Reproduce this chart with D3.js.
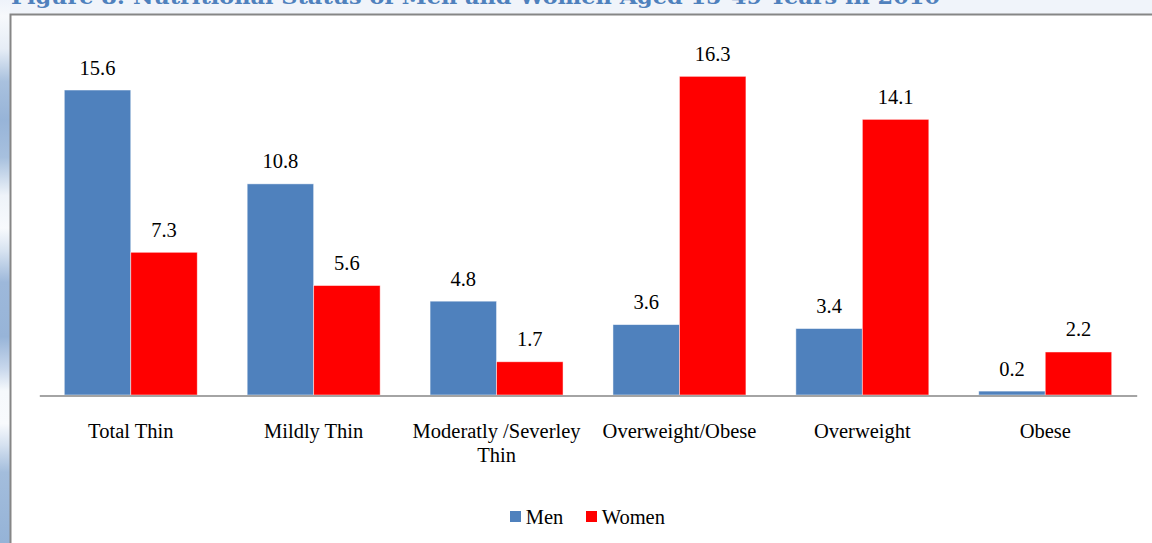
<!DOCTYPE html>
<html>
<head>
<meta charset="utf-8">
<script src="https://cdn.jsdelivr.net/npm/d3@7"></script>
<style>
  html, body { margin: 0; padding: 0; background: #ffffff; }
  svg { display: block; }
  svg text { font-family: "Liberation Serif", "Times New Roman", Times, serif; }
  svg text.heading { font-family: "DejaVu Serif", "Liberation Serif", serif; font-weight: bold; }
</style>
</head>
<body>
<svg id="chart" width="1152" height="543"></svg>
<script>
// Nutritional status of men and women aged 15-49 (percent)
const categories = ["Total Thin", "Mildly Thin", "Moderatly /Severley Thin", "Overweight/Obese", "Overweight", "Obese"];
const seriesNames = ["Men", "Women"];
const menValues = [15.6, 10.8, 4.8, 3.6, 3.4, 0.2];
const womenValues = [7.3, 5.6, 1.7, 16.3, 14.1, 2.2];
const seriesColors = ["#4f81bd", "#ff0000"];
const titleText = "Figure 8: Nutritional Status of Men and Women Aged 15-49 Years in 2010";

const W = 1152, H = 543;
const svg = d3.select("#chart");

// page background: pale strip above the frame, shaded band at the left edge
const defs = svg.append("defs");
const grad = defs.append("linearGradient")
  .attr("id", "edgeShade").attr("x1", 0).attr("y1", 0).attr("x2", 0).attr("y2", 1);
[[0, "#eef3fa"], [0.03, "#f7f9fc"], [0.09, "#e6edf6"], [0.15, "#a9c1de"], [0.22, "#97b4d8"],
 [0.29, "#a7c0de"], [0.36, "#eef3f9"], [0.42, "#f8fafd"], [0.46, "#d9e4f1"], [0.52, "#9db8da"],
 [0.62, "#97b4d8"], [0.68, "#c9d8ec"], [0.72, "#f6f9fc"], [0.78, "#f8fafd"], [0.82, "#d5e1f0"],
 [0.87, "#a3bddc"], [1, "#95b3d7"]]
  .forEach(([o, c]) => grad.append("stop").attr("offset", o).attr("stop-color", c));

svg.append("rect").attr("x", 0).attr("y", 0).attr("width", W).attr("height", 14)
  .attr("fill", "#f0f4fa");
svg.append("rect").attr("x", 0).attr("y", 0).attr("width", 10).attr("height", H)
  .attr("fill", "url(#edgeShade)");

// heading, mostly above the visible area
svg.append("text")
  .attr("class", "heading")
  .attr("x", 11).attr("y", 3.5)
  .attr("textLength", 929).attr("lengthAdjust", "spacingAndGlyphs")
  .style("font-size", "21px")
  .attr("fill", "#4f81bd")
  .text(titleText);

// chart frame (left and top edges visible)
svg.append("rect").attr("x", 10.5).attr("y", 14.5).attr("width", W).attr("height", H)
  .attr("fill", "#ffffff").attr("stroke", "#868686").attr("stroke-width", 2);

// scales
const x0 = d3.scaleBand().domain(categories).range([39.3, 1136.7])
  .paddingInner(0.273).paddingOuter(0.1366);
const x1 = d3.scaleBand().domain(seriesNames).range([0, x0.bandwidth()]).padding(0);
const y = d3.scaleLinear().domain([0, 18]).range([395, 43.1]);

const rows = categories.map((c, i) => ({
  category: c,
  values: [
    { series: "Men", value: menValues[i], color: seriesColors[0] },
    { series: "Women", value: womenValues[i], color: seriesColors[1] }
  ]
}));

const groups = svg.append("g").selectAll("g").data(rows).join("g")
  .attr("transform", d => `translate(${x0(d.category)},0)`);

groups.selectAll("rect").data(d => d.values).join("rect")
  .attr("x", d => x1(d.series))
  .attr("y", d => y(d.value))
  .attr("width", x1.bandwidth())
  .attr("height", d => y(0) - y(d.value))
  .attr("fill", d => d.color)
  .attr("stroke", "#ffffff").attr("stroke-opacity", 0.6).attr("stroke-width", 0.8);

groups.selectAll("text.val").data(d => d.values).join("text")
  .attr("class", "val")
  .attr("x", d => x1(d.series) + x1.bandwidth() / 2)
  .attr("y", d => y(d.value) - 15.5)
  .attr("text-anchor", "middle")
  .style("font-size", "20.5px").attr("fill", "#000")
  .text(d => d.value.toFixed(1));

// category axis
const axis = svg.append("g").attr("transform", "translate(0,395.5)")
  .call(d3.axisBottom(x0).tickSize(0).tickSizeOuter(0).tickPadding(0));
axis.attr("font-family", null).attr("font-size", null);
axis.select(".domain").attr("stroke", "#868686").attr("stroke-width", 1.6);
axis.selectAll(".tick text").each(function(d) {
  const t = d3.select(this);
  t.text(null)
    .style("font-size", "20.5px").attr("fill", "#000")
    .attr("dy", null).attr("y", 42.5);
  const lines = d === "Moderatly /Severley Thin" ? ["Moderatly /Severley", "Thin"] : [d];
  lines.forEach((ln, i) => {
    t.append("tspan").attr("x", 0).attr("dy", i === 0 ? 0 : 24).text(ln);
  });
});

// legend
const legend = svg.append("g");
const legendX = [510, 586];
seriesNames.forEach((s, i) => {
  legend.append("rect").attr("x", legendX[i]).attr("y", 511)
    .attr("width", 11).attr("height", 11).attr("fill", seriesColors[i]);
  legend.append("text").attr("x", legendX[i] + 15.7).attr("y", 524)
    .style("font-size", "20.5px").attr("fill", "#000")
    .text(s);
});
</script>
</body>
</html>
